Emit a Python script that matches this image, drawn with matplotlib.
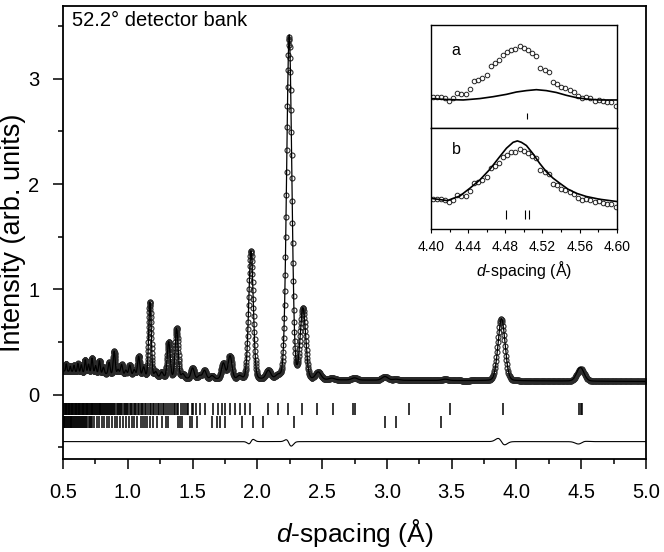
import numpy as np
import matplotlib
matplotlib.use("Agg")
import matplotlib.pyplot as plt
from matplotlib.ticker import MultipleLocator, FormatStrFormatter

plt.rcParams['font.family'] = ['Liberation Sans', 'DejaVu Sans']
plt.rcParams['mathtext.fontset'] = 'custom'
plt.rcParams['mathtext.rm'] = 'Liberation Sans'
plt.rcParams['mathtext.it'] = 'Liberation Sans:italic'

# --- main pattern: reflections (centre / A, height above background, FWHM / A)
pk_d = [0.525, 0.556, 0.585, 0.615, 0.641, 0.672, 0.697, 0.724, 0.751, 0.781,
        0.812, 0.856, 0.895, 0.925, 0.952, 0.985, 1.015, 1.050, 1.084, 1.122,
        1.171, 1.215, 1.262, 1.316, 1.377, 1.425, 1.500, 1.555, 1.592, 1.650,
        1.738, 1.789, 1.862, 1.951, 2.085, 2.160, 2.246, 2.352, 2.470, 2.575,
        2.750, 2.985, 3.070, 3.450, 3.885, 4.493]
pk_h = [0.07, 0.05, 0.06, 0.08, 0.07, 0.12, 0.08, 0.14, 0.07, 0.12,
        0.06, 0.11, 0.22, 0.05, 0.10, 0.05, 0.10, 0.06, 0.19, 0.09,
        0.71, 0.05, 0.05, 0.34, 0.47, 0.04, 0.10, 0.03, 0.08, 0.03,
        0.15, 0.22, 0.03, 1.22, 0.08, 0.03, 3.27, 0.67, 0.07, 0.015,
        0.02, 0.035, 0.01, 0.012, 0.59, 0.13]
pk_w = [0.011, 0.011, 0.012, 0.012, 0.013, 0.013, 0.014, 0.014, 0.015, 0.015,
        0.016, 0.017, 0.018, 0.018, 0.019, 0.019, 0.020, 0.021, 0.021, 0.022,
        0.023, 0.024, 0.025, 0.026, 0.027, 0.028, 0.029, 0.030, 0.031, 0.032,
        0.034, 0.035, 0.037, 0.041, 0.043, 0.045, 0.047, 0.049, 0.050, 0.050,
        0.052, 0.054, 0.055, 0.058, 0.063, 0.066]
eta = 0.1  # Lorentzian fraction of the pseudo-Voigt

# background knots
bg_d = [0.5, 0.8, 1.1, 1.5, 2.0, 3.0, 4.0, 5.0]
bg_I = [0.225, 0.2, 0.17, 0.152, 0.143, 0.137, 0.132, 0.126]

# peaks where the observed profile departs from the fit (shift / A, height change)
mis_d = [1.951, 2.246, 3.885, 4.493]
mis_shift = [0.0005, -0.0003, -0.0023, 0.004]
mis_dh = [0.0, -0.02, 0.0, -0.017]

diff_offset = -0.445

# reflection markers, upper and lower rows
row1_d = [0.503, 0.509, 0.514, 0.521, 0.526, 0.532, 0.538, 0.543, 0.549, 0.556,
          0.561, 0.567, 0.573, 0.579, 0.585, 0.590, 0.597, 0.603, 0.608, 0.615,
          0.621, 0.626, 0.633, 0.639, 0.645, 0.651, 0.657, 0.664, 0.670, 0.676,
          0.682, 0.689, 0.695, 0.701, 0.708, 0.714, 0.721, 0.727, 0.734, 0.740,
          0.747, 0.754, 0.761, 0.767, 0.775, 0.782, 0.789, 0.796, 0.803, 0.811,
          0.818, 0.826, 0.833, 0.841, 0.849, 0.856, 0.864, 0.872, 0.880, 0.889,
          0.897, 0.905, 0.914, 0.922, 0.931, 0.940, 0.949, 0.958, 0.967, 0.976,
          0.986, 0.995, 1.005, 1.015, 1.024, 1.034, 1.045, 1.055, 1.066, 1.077,
          1.088, 1.099, 1.110, 1.121, 1.133, 1.144, 1.156, 1.168, 1.180, 1.192,
          1.204, 1.217, 1.230, 1.243, 1.256, 1.269, 1.283, 1.296, 1.310, 1.325,
          1.339, 1.354, 1.368, 1.377, 1.390, 1.410, 1.428, 1.440, 1.454, 1.467,
          1.493, 1.505, 1.524, 1.557, 1.596, 1.660, 1.698, 1.724, 1.750, 1.788,
          1.827, 1.866, 1.904, 1.943, 2.084, 2.161, 2.235, 2.347, 2.457, 2.586,
          2.740, 2.750, 3.172, 3.486, 3.893, 4.481, 4.501, 4.506]
row2_d = [0.504, 0.511, 0.518, 0.524, 0.531, 0.537, 0.544, 0.551, 0.558, 0.565,
          0.572, 0.579, 0.586, 0.593, 0.601, 0.608, 0.616, 0.623, 0.631, 0.639,
          0.647, 0.655, 0.663, 0.671, 0.680, 0.688, 0.697, 0.705, 0.713, 0.721,
          0.742, 0.760, 0.780, 0.799, 0.816, 0.837, 0.857, 0.878, 0.901, 0.919,
          0.940, 0.965, 0.986, 1.009, 1.030, 1.050, 1.073, 1.100, 1.120, 1.133,
          1.148, 1.171, 1.197, 1.223, 1.262, 1.292, 1.308, 1.390, 1.403, 1.421,
          1.480, 1.493, 1.532, 1.647, 1.686, 1.711, 1.750, 1.879, 1.968, 2.046,
          2.285, 2.985, 3.069, 3.414]

# --- inset: region around 4.5 A
ins_d = [4.4018, 4.4061, 4.4104, 4.4150, 4.4193, 4.4240, 4.4283, 4.4326, 4.4372,
         4.4419, 4.4462, 4.4508, 4.4551, 4.4598, 4.4641, 4.4687, 4.4730, 4.4773,
         4.4819, 4.4866, 4.4909, 4.4955, 4.4998, 4.5045, 4.5088, 4.5134, 4.5177,
         4.5224, 4.5267, 4.5313, 4.5356, 4.5403, 4.5446, 4.5492, 4.5535, 4.5582,
         4.5625, 4.5671, 4.5714, 4.5760, 4.5803, 4.5850, 4.5893, 4.5939, 4.5993]
ins_obs = [0.132, 0.132, 0.132, 0.130, 0.124, 0.130, 0.140, 0.138, 0.138,
           0.149, 0.166, 0.168, 0.172, 0.179, 0.198, 0.204, 0.211, 0.223,
           0.228, 0.233, 0.234, 0.241, 0.237, 0.232, 0.226, 0.220, 0.195,
           0.190, 0.185, 0.164, 0.161, 0.154, 0.152, 0.147, 0.142, 0.134,
           0.130, 0.132, 0.130, 0.124, 0.127, 0.123, 0.121, 0.121, 0.114]
fit_a_d = [4.400, 4.4168, 4.4347, 4.4526, 4.4669, 4.4812, 4.4919, 4.5027,
           4.5134, 4.5241, 4.5349, 4.5456, 4.5564, 4.5671, 4.5814, 4.600]
fit_a = [0.129, 0.127, 0.126, 0.129, 0.133, 0.138, 0.143, 0.146,
         0.148, 0.146, 0.142, 0.136, 0.131, 0.128, 0.126, 0.126]
fit_b_d = [4.400, 4.4175, 4.4311, 4.4419, 4.4526, 4.4633, 4.4741, 4.4812,
           4.4884, 4.4930, 4.4973, 4.5027, 4.5098, 4.5170, 4.5241, 4.5313,
           4.5385, 4.5474, 4.5564, 4.5671, 4.5814, 4.600]
fit_b = [0.133, 0.128, 0.138, 0.155, 0.173, 0.196, 0.224, 0.242,
         0.255, 0.258, 0.255, 0.248, 0.230, 0.209, 0.191, 0.177,
         0.166, 0.153, 0.144, 0.137, 0.131, 0.126]
ins_ref_a = [4.5035]
ins_ref_b = [4.4806, 4.5014, 4.5057]


def pattern(d, centres, heights, widths):
    y = np.interp(d, bg_d, bg_I)
    for c, h, w in zip(centres, heights, widths):
        x = (d - c) / (w / 2)
        y = y + h * ((1 - eta) * np.exp(-np.log(2) * x ** 2) + eta / (1 + x ** 2))
    return y


# TOF channels: constant delta-d/d of 0.1 %
d_obs = 0.5 * 1.001 ** np.arange(2304)
d_obs = d_obs[d_obs <= 5.0]

calc = pattern(d_obs, pk_d, pk_h, pk_w)
obs_c = list(pk_d)
obs_h = list(pk_h)
for md, s, dh in zip(mis_d, mis_shift, mis_dh):
    i = pk_d.index(md)
    obs_c[i] = md + s
    obs_h[i] = pk_h[i] + dh
obs = pattern(d_obs, obs_c, obs_h, pk_w)

fig = plt.figure(figsize=(6.64, 5.52), dpi=100)
ax = fig.add_axes([0.0949, 0.1685, 0.878, 0.8207])

ax.plot(d_obs, obs, 'o', ms=3.6, mfc='none', mec='#2a2a2a', mew=0.8, zorder=2)
ax.plot(d_obs, calc, '-', color='k', lw=0.9, zorder=3)
ax.plot(d_obs, obs - calc + diff_offset, '-', color='k', lw=0.8)
ax.vlines(row1_d, -0.19, -0.075, color='k', lw=1.1)
ax.vlines(row2_d, -0.315, -0.20, color='k', lw=1.1)

ax.set_xlim(0.5, 5.0)
ax.set_ylim(-0.61, 3.69)
ax.xaxis.set_major_locator(MultipleLocator(0.5))
ax.xaxis.set_minor_locator(MultipleLocator(0.25))
ax.yaxis.set_major_locator(MultipleLocator(1))
ax.yaxis.set_minor_locator(MultipleLocator(0.5))
ax.xaxis.set_major_formatter(FormatStrFormatter('%.1f'))
ax.yaxis.set_major_formatter(FormatStrFormatter('%d'))
ax.tick_params(which='both', direction='out', top=False, right=False, width=1.1)
ax.tick_params(which='major', length=7, labelsize=14.5, pad=10)
ax.tick_params(which='minor', length=3.6)
for sp in ax.spines.values():
    sp.set_linewidth(1.3)

ax.set_xlabel(r'$d$-spacing (Å)', fontsize=19)
ax.set_ylabel('Intensity (arb. units)', fontsize=19.5)
ax.xaxis.set_label_coords(0.5, -0.128)
ax.xaxis.label.set_va('top')
ax.yaxis.set_label_coords(-0.063, 0.5)
ax.text(0.015, 0.988, '52.2° detector bank', transform=ax.transAxes,
        fontsize=14.5, va='top', ha='left')

# inset panels
axa = fig.add_axes([0.649, 0.768, 0.280, 0.1866])
axb = fig.add_axes([0.649, 0.585, 0.280, 0.183])
for a, fd, fy, refs, r0, r1, lab, ly in (
        (axa, fit_a_d, fit_a, ins_ref_a, 0.085, 0.099, 'a', 0.709),
        (axb, fit_b_d, fit_b, ins_ref_b, 0.089, 0.108, 'b', 0.743)):
    a.plot(ins_d, ins_obs, 'o', ms=3.3, mfc='none', mec='#222222', mew=0.7)
    a.plot(fd, fy, '-', color='k', lw=1.2)
    a.vlines(refs, r0, r1, color='k', lw=0.8)
    a.set_xlim(4.40, 4.60)
    a.set_ylim(0.066, 0.286)
    a.set_yticks([])
    a.text(0.111, ly, lab, transform=a.transAxes, fontsize=11.5, va='baseline')
    for sp in a.spines.values():
        sp.set_linewidth(1.0)
axa.set_xticks([])
axb.xaxis.set_major_locator(MultipleLocator(0.04))
axb.xaxis.set_minor_locator(MultipleLocator(0.02))
axb.xaxis.set_major_formatter(FormatStrFormatter('%.2f'))
axb.tick_params(which='both', direction='out', width=0.8, labelsize=10)
axb.tick_params(which='major', length=3.2, pad=5)
axb.tick_params(which='minor', length=1.8)
axb.set_xlabel(r'$d$-spacing (Å)', fontsize=11.5, labelpad=3)

fig.savefig('out.png', dpi=100)
